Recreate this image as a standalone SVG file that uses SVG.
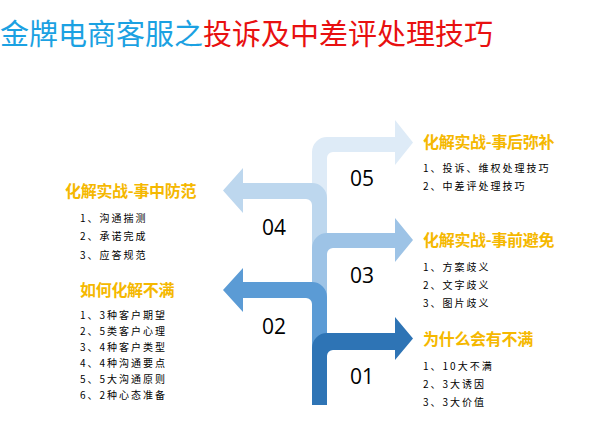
<svg xmlns="http://www.w3.org/2000/svg" width="615" height="447" viewBox="0 0 615 447">
<style>
.t{font-family:"Noto Sans CJK SC",sans-serif;font-size:29px}
.h{font-family:"Noto Sans CJK SC",sans-serif;font-size:16px;font-weight:bold;fill:#F5B800;letter-spacing:-0.3px}
.i{font-family:"Noto Sans CJK SC",sans-serif;font-size:10px;fill:#000;letter-spacing:2px}
.n{font-family:"Open Sans",sans-serif;font-size:21px;fill:#000}
</style>
<rect width="615" height="447" fill="#fff"/>
<text class="t" x="0" y="45"><tspan fill="#1BA1E2">金牌电商客服之</tspan><tspan fill="#E81010">投诉及中差评处理技巧</tspan></text>
<g id="connectors">
<path fill="#DEEBF7" d="M312,405V152A15,15 0 0 1 327,137H395V120L413,142.5L395,165V152H333A6,6 0 0 0 327,158V405Z"/>
<path fill="#BDD7EE" d="M327,405V198A15,15 0 0 0 312,183H243V168L223,190.5L243,213V199H306A6,6 0 0 1 312,205V405Z"/>
<path fill="#9DC3E6" d="M312,405V248A15,15 0 0 1 327,233H395V218L413,240L395,262V248H333A6,6 0 0 0 327,254V405Z"/>
<path fill="#5B9BD5" d="M327,405V297A15,15 0 0 0 312,282H243V268L223,290L243,312V298H306A6,6 0 0 1 312,304V405Z"/>
<path fill="#2E74B5" d="M312,405V348A15,15 0 0 1 327,333H395V317L413,338.5L395,360V350H333A6,6 0 0 0 327,356V405Z"/>
</g>
<g id="n05"><text class="n" x="350" y="186">05</text><text class="h" x="423" y="148">化解实战-事后弥补</text><text class="i" x="423" y="172">1、投诉、维权处理技巧</text><text class="i" x="423" y="190">2、中差评处理技巧</text></g>
<g id="n04"><text class="n" x="262" y="235">04</text><text class="h" x="65" y="197">化解实战-事中防范</text><text class="i" x="80" y="222">1、沟通揣测</text><text class="i" x="80" y="240">2、承诺完成</text><text class="i" x="80" y="259">3、应答规范</text></g>
<g id="n03"><text class="n" x="350" y="283">03</text><text class="h" x="423" y="246">化解实战-事前避免</text><text class="i" x="423" y="271">1、方案歧义</text><text class="i" x="423" y="289">2、文字歧义</text><text class="i" x="423" y="307">3、图片歧义</text></g>
<g id="n02"><text class="n" x="262" y="334">02</text><text class="h" x="80" y="296">如何化解不满</text><text class="i" x="80" y="319">1、3种客户期望</text><text class="i" x="80" y="335">2、5类客户心理</text><text class="i" x="80" y="351">3、4种客户类型</text><text class="i" x="80" y="367">4、4种沟通要点</text><text class="i" x="80" y="383">5、5大沟通原则</text><text class="i" x="80" y="399">6、2种心态准备</text></g>
<g id="n01"><text class="n" x="350" y="384">01</text><text class="h" x="423" y="345">为什么会有不满</text><text class="i" x="423" y="370">1、10大不满</text><text class="i" x="423" y="388">2、3大诱因</text><text class="i" x="423" y="406">3、3大价值</text></g>
</svg>
